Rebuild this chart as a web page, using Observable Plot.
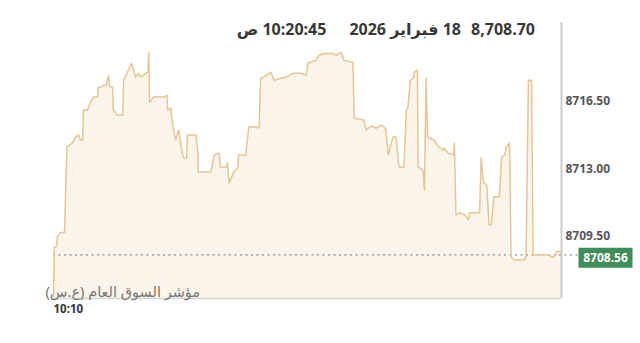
<!DOCTYPE html>
<html>
<head>
<meta charset="utf-8">
<script src="https://cdn.jsdelivr.net/npm/d3@7"></script>
<script src="https://cdn.jsdelivr.net/npm/@observablehq/plot@0.6"></script>
<style>
  html, body { margin: 0; padding: 0; background: #ffffff; }
  #wrap { position: relative; width: 640px; height: 343px; font-family: "Noto Sans", "DejaVu Sans", sans-serif; }
  #title { position: absolute; top: 18px; right: 105px; direction: rtl; font-size: 16px; font-weight: bold; color: #383838; white-space: nowrap; }
  #title span { display: inline-block; }
  #title .s1 { margin-left: 10px; }
  #title .s2 { margin-left: 23px; }
</style>
</head>
<body>
<div id="wrap">
  <div id="chart"></div>
  <div id="title"></div>
</div>
<script>
// ---- data ----
const titleParts = ["8,708.70", "18 فبراير 2026", "10:20:45 ص"];
const seriesLabel = "مؤشر السوق العام (ع.س)";
const previousClose = 8708.56;
const yTicks = [8709.5, 8713.0, 8716.5];
const yDomain = [8706.3, 8720.58];
const startTime = [2026, 1, 18, 10, 10, 0];
const endSeconds = 645; // 10:20:45
const secondsAfterStart = [
  0, 1, 4, 5, 9, 14, 17, 24, 28, 32, 34, 37, 38, 43, 47, 51, 56, 57, 60, 64,
  67, 70, 71, 75, 76, 81, 88, 89, 95, 99, 102, 104, 108, 111, 117, 120, 121, 122, 127, 140,
  144, 145, 149, 151, 155, 159, 162, 165, 169, 170, 181, 183, 184, 200, 204, 210, 212, 220, 221, 223,
  229, 234, 235, 244, 248, 257, 261, 263, 267, 276, 280, 289, 295, 304, 314, 321, 323, 333, 337, 344,
  355, 359, 365, 369, 380, 382, 394, 397, 403, 410, 416, 420, 422, 425, 431, 435, 438, 439, 445, 448,
  450, 453, 457, 458, 462, 463, 469, 471, 473, 475, 483, 489, 495, 496, 501, 508, 509, 511, 515, 522,
  527, 528, 541, 543, 546, 550, 553, 556, 559, 566, 569, 573, 575, 579, 581, 584, 598, 600, 603, 607,
  609, 628, 632, 635, 639, 645
];
const indexValues = [
  8706.41, 8708.98, 8708.98, 8709.50, 8709.71, 8709.71, 8714.14, 8714.35, 8714.65, 8714.76, 8714.50, 8714.50, 8716.05, 8716.05, 8716.46, 8716.72, 8716.72, 8717.23, 8717.23, 8717.34,
  8717.34, 8717.85, 8717.28, 8717.23, 8716.05, 8715.79, 8715.79, 8717.59, 8718.11, 8718.47, 8718.11, 8717.75, 8717.95, 8717.75, 8717.95, 8718.01, 8719.04, 8716.46, 8716.72, 8716.72,
  8716.82, 8716.05, 8716.15, 8715.38, 8714.50, 8715.02, 8714.14, 8713.57, 8713.57, 8714.76, 8714.76, 8713.98, 8712.85, 8712.85, 8713.73, 8713.83, 8713.11, 8713.11, 8713.31, 8712.28,
  8712.85, 8713.06, 8713.73, 8713.73, 8715.17, 8715.17, 8715.12, 8717.70, 8717.75, 8718.01, 8717.59, 8717.70, 8717.75, 8717.95, 8717.95, 8717.85, 8718.47, 8718.62, 8718.88, 8718.98,
  8718.98, 8718.88, 8719.04, 8718.62, 8718.52, 8715.63, 8715.53, 8715.02, 8715.22, 8715.12, 8715.27, 8715.17, 8715.02, 8713.73, 8714.65, 8714.65, 8713.31, 8713.11, 8713.11, 8716.05,
  8716.20, 8717.59, 8717.70, 8718.01, 8718.11, 8713.11, 8712.95, 8711.92, 8717.70, 8714.65, 8714.50, 8714.14, 8713.98, 8714.09, 8713.83, 8713.73, 8714.35, 8710.63, 8710.74, 8710.63,
  8710.38, 8710.74, 8710.74, 8713.57, 8712.28, 8712.18, 8710.12, 8710.12, 8711.56, 8711.56, 8713.62, 8713.73, 8714.14, 8714.35, 8708.47, 8708.31, 8708.31, 8708.47, 8717.59, 8717.59,
  8708.57, 8708.57, 8708.47, 8708.42, 8708.73, 8708.73
];

// ---- build ----
const t0 = new Date(...startTime);
const addSec = s => new Date(t0.getTime() + s * 1000);
const rows = secondsAfterStart.map((s, i) => ({time: addSec(s), value: indexValues[i]}));
const tEnd = addSec(endSeconds);

document.getElementById("title").innerHTML =
  `<span class="s1">${titleParts[0]}</span><span class="s2">${titleParts[1]}</span><span>${titleParts[2]}</span>`;

const badgeSymbol = { draw(ctx) { ctx.rect(-27, -10, 54, 20); } };

const chart = Plot.plot({
  width: 640,
  height: 343,
  marginLeft: 53,
  marginRight: 79,
  marginTop: 22,
  marginBottom: 45,
  style: {fontFamily: "'Noto Sans', 'DejaVu Sans', sans-serif", background: "transparent", overflow: "visible"},
  x: {type: "time", domain: [t0, tEnd]},
  y: {domain: yDomain},
  marks: [
    Plot.areaY(rows, {x: "time", y1: yDomain[0], y2: "value", fill: "#fbf4ea"}),
    Plot.ruleY([previousClose], {stroke: "#8a8a8a", strokeWidth: 1.3, strokeDasharray: "2,3.5", insetRight: -17}),
    Plot.lineY(rows, {x: "time", y: "value", stroke: "#e6c698", strokeWidth: 1.5}),
    Plot.ruleX([tEnd], {stroke: "#cbcbcb", strokeWidth: 2}),
    Plot.ruleY([yDomain[0]], {stroke: "#d6d6d6", strokeWidth: 1.5}),
    Plot.axisY({anchor: "right", ticks: yTicks, tickFormat: d => d.toFixed(2), tickSize: 0, tickPadding: 4,
      fontSize: 12, fontWeight: "bold", fill: "#555", label: null}),
    Plot.axisX({ticks: [t0], tickFormat: d3.timeFormat("%H:%M"), tickSize: 0, tickPadding: 6,
      textAnchor: "start", fontSize: 11.5, fontWeight: "bold", fill: "#333", label: null}),
    Plot.text([seriesLabel], {frameAnchor: "bottom-left", text: d => d, textAnchor: "start", lineAnchor: "bottom",
      dx: -8, dy: -2, fontSize: 14.5, fill: "#777"}),
    Plot.dot([previousClose], {y: d => d, frameAnchor: "right", dx: 44, dy: 3, symbol: badgeSymbol, r: 10,
      fill: "#3f8d58", stroke: "none"}),
    Plot.text([previousClose], {y: d => d, frameAnchor: "right", dx: 44, dy: 3, text: d => d.toFixed(2),
      textAnchor: "middle", fontSize: 12, fontWeight: "bold", fill: "white"})
  ]
});
document.getElementById("chart").appendChild(chart);
</script>
</body>
</html>
